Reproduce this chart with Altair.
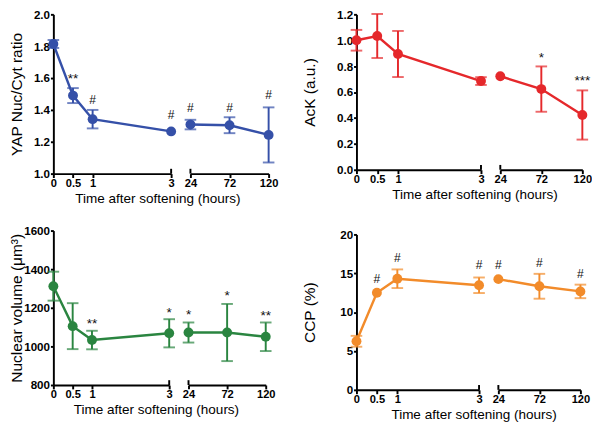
import altair as alt
import pandas as pd

FONT = "Liberation Sans"

times = [0, 0.5, 1, 3, 24, 72, 120]
left_ticks = [0, 0.5, 1, 3]
right_ticks = [24, 72, 120]
x_title = "Time after softening (hours)"

# Panel A: YAP nuclear/cytoplasmic ratio
yap_mean = [1.814, 1.49, 1.342, 1.265, 1.308, 1.304, 1.243]
yap_err = [0.025, 0.047, 0.058, 0.0, 0.03, 0.05, 0.173]
yap_ann = ["", "**", "#", "#", "#", "#", "#"]
yap_ann_y = [None, 1.611, 1.46, 1.368, 1.409, 1.409, 1.49]
yap_ticks = [1.0, 1.2, 1.4, 1.6, 1.8, 2.0]

# Panel B: AcK
ack_mean = [1.0, 1.033, 0.894, 0.685, 0.722, 0.623, 0.423]
ack_err = [0.08, 0.17, 0.178, 0.03, 0.0, 0.175, 0.19]
ack_ann = ["", "", "", "", "", "*", "***"]
ack_ann_y = [None, None, None, None, None, 0.884, 0.71]
ack_ticks = [0.0, 0.2, 0.4, 0.6, 0.8, 1.0, 1.2]

# Panel C: Nuclear volume
nuc_mean = [1312, 1105, 1033, 1068, 1072, 1072, 1050]
nuc_err = [75, 119, 48, 73, 52, 148, 74]
nuc_ann = ["", "", "**", "*", "*", "*", "**"]
nuc_ann_y = [None, None, 1128, 1188, 1175, 1275, 1172]
nuc_ticks = [800, 1000, 1200, 1400, 1600]

# Panel D: CCP
ccp_mean = [6.25, 12.5, 14.3, 13.46, 14.25, 13.33, 12.67]
ccp_err = [0.7, 0.0, 1.2, 1.0, 0.0, 1.6, 0.87]
ccp_ann = ["", "#", "#", "#", "#", "#", "#"]
ccp_ann_y = [None, 14.3, 16.96, 16.04, 16.1, 16.3, 14.9]
ccp_ticks = [0, 5, 10, 15, 20]


def segment(df, ann, dom, ticks, color, ydom, yaxis, width, height, side):
    d = df[(df.t >= dom[0]) & (df.t <= dom[1])]
    eb = d[d.e > 0]
    a = ann[(ann.t >= dom[0]) & (ann.t <= dom[1])]
    xs = alt.Scale(domain=dom, nice=False, zero=False)
    ys = alt.Scale(domain=ydom, nice=False, zero=False)
    xax = alt.Axis(values=ticks, format=".1~f", title=None, tickSize=4, labelPadding=0,
                   labelFontSize=11.5, labelOverlap=False, labelFlush=False)

    def X(f):
        return alt.X(f, scale=xs, axis=xax)

    def Y(f):
        return alt.Y(f, scale=ys, axis=yaxis)

    base = alt.Chart(d)
    line = base.mark_line(color=color, strokeWidth=2.5).encode(x=X("t:Q"), y=Y("m:Q"))
    bars = alt.Chart(eb).mark_rule(color=color, strokeWidth=2).encode(
        x=X("t:Q"), y=Y("lo:Q"), y2="hi:Q")
    cap_lo = alt.Chart(eb).mark_tick(color=color, orient="horizontal", size=12,
                                     thickness=2).encode(x=X("t:Q"), y=Y("lo:Q"))
    cap_hi = alt.Chart(eb).mark_tick(color=color, orient="horizontal", size=12,
                                     thickness=2).encode(x=X("t:Q"), y=Y("hi:Q"))
    pts = base.mark_circle(color=color, size=105, opacity=1).encode(
        x=X("t:Q"), y=Y("m:Q"))
    hash_t = alt.Chart(a[a.lab == "#"]).mark_text(
        font=FONT, fontSize=12.5, color="#111", baseline="middle").encode(
        x=X("t:Q"), y=Y("y:Q"), text="lab:N")
    star_t = alt.Chart(a[a.lab != "#"]).mark_text(
        font=FONT, fontSize=14, color="#111", baseline="middle", dy=3).encode(
        x=X("t:Q"), y=Y("y:Q"), text="lab:N")
    brk_x = dom[1] if side == "left" else dom[0]
    brk = alt.Chart(pd.DataFrame({"b": [brk_x]})).mark_rule(
        color="black", strokeWidth=2, yOffset=-5, y2Offset=0).encode(
        x=X("b:Q"), y=alt.datum(ydom[0], scale=ys, axis=yaxis),
        y2=alt.datum(ydom[0]))
    layers = [line, bars, cap_lo, cap_hi, pts, brk]
    if len(a[a.lab == "#"]):
        layers.append(hash_t)
    if len(a[a.lab != "#"]):
        layers.append(star_t)
    return alt.layer(*layers).properties(width=width, height=height)


def panel(mean, err, labs, laby, color, ytitle, ydom, yticks, yfmt, lw, rw, h,
          extent, tpad, tdx):
    df = pd.DataFrame({"t": times, "m": mean, "e": err})
    df["lo"] = df.m - df.e
    df["hi"] = df.m + df.e
    ann = pd.DataFrame({"t": times, "lab": labs, "y": laby})
    ann = ann[ann.lab != ""]
    yaxis = alt.Axis(values=yticks, format=yfmt, title=ytitle, tickSize=3,
                     labelPadding=1, minExtent=extent, maxExtent=extent,
                     titlePadding=tpad, labelFontSize=12, titleFontSize=16,
                     labelOverlap=False, labelFlush=False)
    left = segment(df, ann, [0, 3], left_ticks, color, ydom, yaxis, lw, h, "left")
    right = segment(df, ann, [24, 120], right_ticks, color, ydom, None, rw, h, "right")
    return alt.hconcat(
        left, right, spacing=20, bounds="flush",
        title=alt.TitleParams(x_title, orient="bottom", anchor="middle", fontSize=14,
                              fontWeight="normal", font=FONT, color="black", offset=4,
                              dx=tdx))


p1 = panel(yap_mean, yap_err, yap_ann, yap_ann_y, "#3550a8", "YAP  Nuc/Cyt ratio",
           [1.0, 2.0], yap_ticks, ".1f", 122, 81, 165, 30, 0, 15)
p2 = panel(ack_mean, ack_err, ack_ann, ack_ann_y, "#e5282b", "AcK (a.u.)",
           [0.0, 1.2], ack_ticks, ".1f", 129, 85, 161, 22, 18, 29)
p3 = panel(nuc_mean, nuc_err, nuc_ann, nuc_ann_y, "#2a8540", "Nuclear volume (μm³)",
           [800, 1600], nuc_ticks, "d", 120, 80, 160, 30, 0, 15)
p4 = panel(ccp_mean, ccp_err, ccp_ann, ccp_ann_y, "#f28b2a", "CCP (%)",
           [0, 20], ccp_ticks, "d", 127, 85, 161, 22, 18, 29)

col1 = alt.vconcat(p1, p3, spacing=19)
col2 = alt.vconcat(p2, p4, spacing=27)

chart = alt.hconcat(
    col1, col2, spacing=25,
    padding={"left": 0, "top": -7, "right": 0, "bottom": 0}
).configure_view(
    stroke=None
).configure_axis(
    domainColor="black", domainWidth=2, tickColor="black", tickWidth=2,
    labelFont=FONT, labelFontWeight="bold", labelColor="black",
    titleFont=FONT, titleFontWeight="normal", titleColor="black", grid=False
).configure_title(font=FONT, fontSize=14, fontWeight="normal")

chart.save("out.html", embed_options={"renderer": "svg", "actions": False})
